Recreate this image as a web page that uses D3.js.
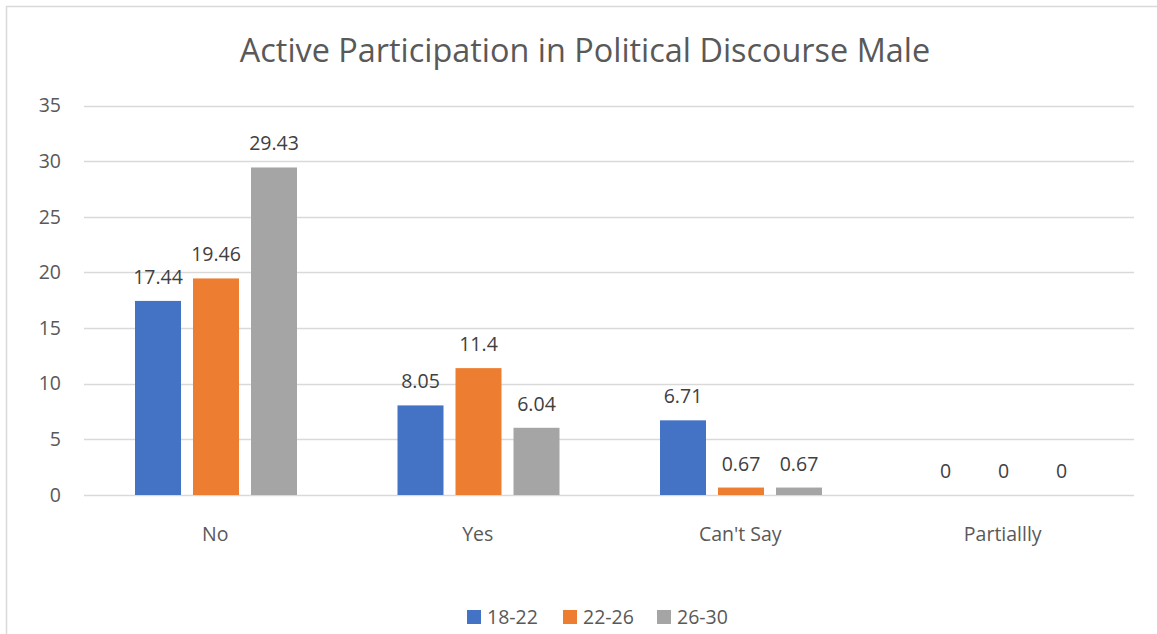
<!DOCTYPE html>
<html><head><meta charset="utf-8">
<script src="https://cdn.jsdelivr.net/npm/d3@7"></script>
<style>body{margin:0;background:#fff}svg{display:block}text{font-family:"Open Sans","Liberation Sans",sans-serif}</style>
</head><body><svg id="c" width="1157" height="634"></svg>
<script>
const categories = ["No", "Yes", "Can't Say", "Partiallly"];
const seriesNames = ["18-22", "22-26", "26-30"];
const s1822 = [17.44, 8.05, 6.71, 0];
const s2226 = [19.46, 11.4, 0.67, 0];
const s2630 = [29.43, 6.04, 0.67, 0];
const colors = ["#4472C4", "#ED7D31", "#A5A5A5"];
const yTicks = [0, 5, 10, 15, 20, 25, 30, 35];
const title = "Active Participation in Political Discourse Male";

const series = [s1822, s2226, s2630];
const svg = d3.select("#c");
svg.append("rect").attr("x",6.5).attr("y",6.5).attr("width",1200).attr("height",700)
  .attr("fill","#fff").attr("stroke","#d9d9d9").attr("stroke-width",1.5);

const x = d3.scaleBand().domain(categories).range([84,1134]).paddingInner(0).paddingOuter(0);
const y = d3.scaleLinear().domain([0,35]).range([495,105.5]);
const inner = d3.scaleBand().domain(seriesNames).range([51,213]).paddingInner(12/58).paddingOuter(0);

svg.append("text").attr("x",585).attr("y",62).attr("text-anchor","middle")
  .attr("font-size",32.4).attr("fill","#595959").text(title);

const grid = svg.append("g");
grid.selectAll("line").data(yTicks).join("line")
  .attr("x1",84).attr("x2",1134).attr("y1",d=>Math.round(y(d))+0.5).attr("y2",d=>Math.round(y(d))+0.5)
  .attr("stroke","#d9d9d9").attr("stroke-width",1.3);

const yAxis = d3.axisLeft(y).tickValues(yTicks).tickSize(0).tickPadding(0);
const ga = svg.append("g").attr("transform","translate(61,0)").call(yAxis);
ga.select(".domain").remove();
ga.selectAll("text").attr("font-size",19.5).attr("fill","#595959").attr("font-family","'Open Sans',sans-serif");

const xAxis = d3.axisBottom(x).tickSize(0).tickPadding(0);
const gx = svg.append("g").attr("transform","translate(0,527)").call(xAxis);
gx.select(".domain").remove();
gx.selectAll("text").attr("font-size",19.5).attr("fill","#595959").attr("font-family","'Open Sans',sans-serif");

const groups = svg.append("g").selectAll("g").data(categories).join("g")
  .attr("transform",d=>`translate(${x(d)},0)`);
series.forEach((vals,si)=>{
  groups.append("rect")
    .attr("x",inner(seriesNames[si])).attr("width",inner.bandwidth())
    .attr("y",(d,i)=>y(vals[i])).attr("height",(d,i)=>y(0)-y(vals[i]))
    .attr("fill",colors[si]);
  groups.append("text")
    .attr("x",inner(seriesNames[si])+inner.bandwidth()/2)
    .attr("y",(d,i)=>y(vals[i])-17)
    .attr("text-anchor","middle").attr("font-size",19.5).attr("fill","#404040")
    .text((d,i)=>vals[i]);
});

const lg = svg.append("g").attr("transform","translate(467,624)");
const lx = [0, 96, 190];
seriesNames.forEach((n,i)=>{
  lg.append("rect").attr("x",lx[i]).attr("y",-14).attr("width",14).attr("height",14).attr("fill",colors[i]);
  lg.append("text").attr("x",lx[i]+20).attr("y",0).attr("font-size",19.5).attr("fill","#595959").text(n);
});
</script></body></html>
